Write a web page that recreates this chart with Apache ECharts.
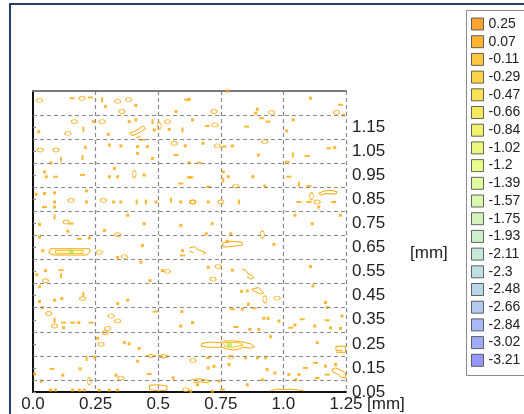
<!DOCTYPE html>
<html>
<head>
<meta charset="utf-8">
<script src="https://cdn.jsdelivr.net/npm/echarts@6/dist/echarts.min.js"></script>
<style>
  html, body { margin: 0; padding: 0; background: #fff; overflow: hidden; }
  #chart { width: 524px; height: 414px; }
</style>
</head>
<body>
<div id="chart"></div>
<script>
// axis ticks
var xTickValues = [0, 0.25, 0.5, 0.75, 1.0, 1.25];
var xTickLabels = ["0.0", "0.25", "0.5", "0.75", "1.0", "1.25"];
var yTickValues = [0.05, 0.15, 0.25, 0.35, 0.45, 0.55, 0.65, 0.75, 0.85, 0.95, 1.05, 1.15];
var yTickLabels = ["0.05", "0.15", "0.25", "0.35", "0.45", "0.55", "0.65", "0.75", "0.85", "0.95", "1.05", "1.15"];
var yGridValues = [0.1, 0.2, 0.3, 0.4, 0.5, 0.6, 0.7, 0.8, 0.9, 1.0, 1.1, 1.2];
var axisUnit = "[mm]";

// contour levels (legend)
var levelNames = ["0.25", "0.07", "-0.11", "-0.29", "-0.47", "-0.66", "-0.84", "-1.02", "-1.2", "-1.39",
  "-1.57", "-1.75", "-1.93", "-2.11", "-2.3", "-2.48", "-2.66", "-2.84", "-3.02", "-3.21"];
var levelColors = ["#ff8c00", "#ffa200", "#ffb812", "#fcc81c", "#f6d82a", "#f2e43a", "#eeee48", "#e8f55a",
  "#e2fa70", "#dafa86", "#d2f89a", "#c8f0aa", "#c0ecbe", "#b8e2cc", "#b0d8d8", "#a8cce2", "#a0bcee",
  "#94a8f4", "#8a94fa", "#7c7cfc"];

// contour fragments at level 0.07 [x mm, y mm]
var dotMarks = [
  [0.289,1.236],[0.411,1.24],[0.384,1.173],[0.411,1.18],[0.023,1.131],[0.241,1.173],[0.301,1.12],[0.484,1.138],
  [0.544,1.141],[0.571,1.215],[0.209,1.066],[0.072,1.002],[0.305,1.076],[0.351,1.072],[0.418,1.069],[0.418,1.041],
  [0.457,1.069],[0.477,1.02],[0.608,1.072],[0.046,0.964],[0.053,0.944],[0.325,0.978],[0.305,0.944],[0.338,0.944],
  [0.444,0.951],[0.013,0.871],[0.046,0.874],[0.086,0.877],[0.086,0.839],[0.214,0.839],[0.214,0.885],[0.322,0.839],
  [0.351,0.839],[0.491,0.839],[0.59,0.839],[0.086,0.818],[0.026,0.746],[0.139,0.718],[0.378,0.784],[0.444,0.749],
  [0.59,0.742],[0.285,0.721],[0.026,0.693],
  [0.776,1.3],[0.624,1.266],[0.896,1.224],[0.889,1.208],[1.108,1.27],[0.637,1.18],[1.039,1.18],[1.013,1.134],
  [0.679,1.083],[0.796,1.072],[1.205,1.065],[0.9,1.034],[0.624,1.002],[0.76,0.964],[0.78,0.944],[0.878,0.944],
  [0.926,0.905],[0.7,0.839],[1.141,0.818],[1.046,0.784],[1.228,0.784],[0.716,0.749],[1.115,0.749],[0.692,0.707],
  [0.79,0.707],[0.776,0.676],[1.24,1.2],
  [0.225,0.69],[0.039,0.637],[0.338,0.609],[0.437,0.658],[0.597,0.637],[0.431,0.589],[0.05,0.554],[0.015,0.537],
  [0.026,0.487],[0.517,0.554],[0.467,0.512],[0.026,0.426],[0.086,0.431],[0.115,0.438],[0.378,0.431],[0.338,0.417],
  [0.037,0.401],[0.122,0.317],[0.183,0.338],[0.594,0.384],[0.59,0.324],[0.258,0.273],[0.365,0.255],[0.384,0.25],
  [0.424,0.231],[0.245,0.195],[0.418,0.178],[0.006,0.125],[0.119,0.12],[0.188,0.146],[0.331,0.12],[0.033,0.095],
  [0.56,0.108],[0.07,0.058],[0.09,0.058],[0.158,0.058],[0.185,0.058],[0.205,0.058],[0.265,0.058],[0.305,0.058],
  [0.338,0.058],
  [0.962,0.663],[0.7,0.568],[0.796,0.556],[1.108,0.571],[0.833,0.468],[0.856,0.47],[1.118,0.491],[0.86,0.415],
  [0.836,0.394],[1.168,0.422],[1.175,0.401],[1.234,0.366],[0.637,0.338],[0.866,0.31],[0.902,0.31],[0.922,0.356],
  [0.939,0.356],[0.982,0.345],[1.046,0.328],[1.125,0.324],[1.228,0.314],[1.188,0.317],[0.949,0.28],[1.135,0.255],
  [0.723,0.157],[0.7,0.15],[0.783,0.164],[0.849,0.192],[0.896,0.192],[0.929,0.192],[0.966,0.129],[0.935,0.143],
  [1.022,0.122],[1.062,0.122],[1.168,0.157],[1.208,0.164],[0.743,0.095],[0.856,0.08],[0.916,0.101],[0.63,0.053],
  [0.716,0.053],[1.049,0.101],[0.657,0.08]
];
var dashMarks = [
  [0.156,1.27],[0.229,1.273],[0.614,1.264],[0.437,1.097],[0.09,0.944],[0.198,0.951],[0.59,0.916],[0.624,0.941],
  [0.046,0.818],[0.152,0.749],[0.185,0.686],[0.571,1.034],
  [1.228,1.243],[0.696,1.155],[0.913,1.187],[0.938,1.173],[0.853,1.152],[0.763,1.069],[1.181,1.062],[1.095,1.03],
  [0.663,1.002],[1.015,1.006],[0.63,0.941],[1.022,0.944],[0.7,0.902],[1.102,0.905],[1.062,0.839],[1.102,0.839],
  [1.201,0.839],
  [0.597,0.617],[0.112,0.556],[0.122,0.338],[0.159,0.338],[0.232,0.338],[0.488,0.384],[0.076,0.146],[0.464,0.125],
  [0.882,0.398],[0.796,0.394],[0.81,0.32],[1.029,0.317],[1.075,0.352],[1.175,0.348],[0.7,0.192],[1.088,0.15],
  [1.128,0.171],[1.175,0.122],[0.756,0.06],[1.135,0.108]
];
var vDashMarks = [
  [0.276,1.264],[0.201,1.141],[0.477,1.173],[0.597,1.138],[0.198,1.023],[0.112,1.016],[0.414,0.839],[0.451,0.839],
  [0.551,0.846],[0.086,0.777],[1.038,1.034],[0.76,0.93],[1.062,0.913],[0.823,0.839],
  [0.112,0.533],[0.201,0.456],[0.086,0.348],[0.214,0.189]
];
var ringMarks = [
  [0.026,1.261],[0.196,1.27],[0.338,1.257],[0.382,1.264],[0.355,1.215],[0.165,1.173],[0.139,1.124],[0.276,1.173],
  [0.537,1.173],[0.029,1.055],[0.092,1.055],[0.564,1.083],[0.152,0.846],[0.281,0.846],[0.637,0.839],[0.132,0.756],
  [0.338,0.703],
  [0.723,1.215],[0.953,1.211],[1.212,1.211],[0.727,1.159],[0.736,1.072],[0.926,1.09],[0.81,0.905],[0.639,0.839],
  [0.75,0.839],[1.135,0.839],
  [0.265,0.63],[0.365,0.612],[0.05,0.512],[0.537,0.551],[0.198,0.438],[0.063,0.376],[0.086,0.324],[0.312,0.366],
  [0.338,0.345],[0.298,0.314],[0.289,0.296],[0.272,0.248],[0.351,0.108],[0.61,0.06],
  [0.74,0.571],[0.719,0.519],[0.975,0.44],[0.639,0.181],[0.79,0.195]
];
var vRingMarks = [[0.504,1.155],[0.404,0.955],[1.112,0.863],[0.916,0.704],[0.225,0.095],[0.926,0.435]];

// longer contour lines at level 0.07
var outerLoops = [
  [[0.07,0.645],[0.225,0.645],[0.228,0.632],[0.215,0.619],[0.08,0.619],[0.063,0.628],[0.07,0.645]],
  [[0.672,0.25],[0.7,0.257],[0.75,0.255],[0.76,0.262],[0.8,0.262],[0.84,0.257],[0.87,0.25],[0.885,0.238],
   [0.87,0.232],[0.84,0.236],[0.82,0.228],[0.8,0.224],[0.77,0.23],[0.75,0.236],[0.7,0.236],[0.672,0.24],[0.672,0.25]],
  [[0.756,0.668],[0.79,0.676],[0.835,0.672],[0.836,0.66],[0.8,0.655],[0.76,0.652],[0.756,0.668]],
  [[0.625,0.648],[0.645,0.654],[0.66,0.64],[0.675,0.635],[0.69,0.628],[0.68,0.621]],
  [[0.625,0.635],[0.64,0.628]],
  [[0.836,0.56],[0.85,0.555],[0.86,0.54],[0.872,0.535],[0.882,0.525],[0.87,0.519],[0.855,0.53]],
  [[0.876,0.478],[0.9,0.484],[0.912,0.472],[0.922,0.462],[0.91,0.456],[0.89,0.466],[0.876,0.472],[0.876,0.478]],
  [[1.195,0.145],[1.21,0.15],[1.23,0.14],[1.248,0.13],[1.248,0.108],[1.23,0.112],[1.215,0.125],[1.195,0.135],[1.195,0.145]],
  [[1.235,0.222],[1.21,0.222],[1.21,0.24],[1.248,0.24],[1.248,0.215],[1.21,0.215]],
  [[0.632,0.1],[0.66,0.105],[0.69,0.1],[0.71,0.095],[0.7,0.088],[0.67,0.092],[0.64,0.09]],
  [[0.465,0.078],[0.5,0.08],[0.535,0.075],[0.535,0.058],[0.5,0.055],[0.465,0.06],[0.465,0.078]],
  [[0.452,0.2],[0.47,0.206],[0.49,0.2],[0.47,0.193],[0.452,0.2]],
  [[0.5,0.2],[0.52,0.206],[0.544,0.198],[0.52,0.19],[0.5,0.2]],
  [[0.95,0.055],[0.97,0.062],[1.0,0.06],[1.03,0.062],[1.06,0.058],[1.08,0.055]],
  [[1.141,0.875],[1.16,0.884],[1.185,0.888],[1.214,0.882],[1.21,0.872],[1.17,0.874],[1.15,0.868],[1.141,0.875]],
  [[0.385,1.125],[0.4,1.13],[0.42,1.14],[0.44,1.155],[0.45,1.145],[0.43,1.13],[0.41,1.12],[0.395,1.115],[0.385,1.125]],
  [[0.41,1.105],[0.43,1.112]]
];
// inner lines at level -0.11 / -0.29
var innerLoops = [
  [[0.09,0.638],[0.2,0.638],[0.2,0.626],[0.09,0.626],[0.09,0.638]],
  [[0.76,0.255],[0.82,0.255],[0.84,0.245],[0.8,0.236],[0.765,0.24],[0.76,0.255]]
];
// small patches at level -1.2
var greenSpots = [[0.153,0.633],[0.784,0.245]];

var chart = echarts.init(document.getElementById("chart"));

var fontFamily = "Liberation Sans, Arial, sans-serif";
var orange = "#ffa500";
var yellow = "#ffc20e";

var series = [];

// horizontal dashed grid
series.push({
  type: "scatter",
  data: [],
  silent: true,
  z: 1,
  markLine: {
    silent: true,
    symbol: "none",
    label: { show: false },
    lineStyle: { color: "#8a8a8a", type: [4, 3], width: 1.2 },
    data: yGridValues.map(function (v) { return { yAxis: v }; })
  }
});

outerLoops.forEach(function (pts) {
  series.push({
    type: "line", data: pts, showSymbol: false, silent: true, z: 3,
    lineStyle: { color: orange, width: 1 }
  });
});
innerLoops.forEach(function (pts) {
  series.push({
    type: "line", data: pts, showSymbol: false, silent: true, z: 3,
    lineStyle: { color: yellow, width: 1 }
  });
});

series.push({ type: "scatter", data: dotMarks, symbol: "rect", symbolSize: [3, 3], z: 3,
  itemStyle: { color: orange } });
series.push({ type: "scatter", data: dashMarks, symbol: "rect", symbolSize: [5, 2], z: 3,
  itemStyle: { color: orange } });
series.push({ type: "scatter", data: vDashMarks, symbol: "rect", symbolSize: [2, 5], z: 3,
  itemStyle: { color: orange } });
series.push({ type: "scatter", data: ringMarks, symbol: "circle", symbolSize: [6, 4], z: 3,
  itemStyle: { color: "rgba(255,255,255,0)", borderColor: orange, borderWidth: 1 } });
series.push({ type: "scatter", data: vRingMarks, symbol: "circle", symbolSize: [4, 7], z: 3,
  itemStyle: { color: "rgba(255,255,255,0)", borderColor: orange, borderWidth: 1 } });
series.push({ type: "scatter", data: greenSpots, symbol: "rect", symbolSize: [5, 5], z: 4,
  itemStyle: { color: "#bde35a" } });

// legend entries
levelNames.forEach(function (name, i) {
  series.push({ type: "scatter", name: name, data: [], itemStyle: { color: levelColors[i] } });
});

var option = {
  animation: false,
  backgroundColor: "#fff",
  textStyle: { fontFamily: fontFamily },
  graphic: [
    {
      type: "rect",
      shape: { x: 10, y: 4, width: 560, height: 440 },
      style: { fill: "none", stroke: "#223f6e", lineWidth: 2 },
      z: 0
    },
    {
      // legend frame, open on the right like the original
      type: "rect",
      shape: { x: 466.5, y: 10.5, width: 200, height: 365 },
      style: { fill: "#fff", stroke: "#8c8c8c", lineWidth: 1 },
      z: 0
    },
    {
      type: "text",
      x: 410, y: 253,
      style: { text: axisUnit, fill: "#222", font: "17px " + fontFamily, verticalAlign: "middle" }
    },
    {
      type: "text",
      x: 367, y: 404,
      style: { text: axisUnit, fill: "#222", font: "17px " + fontFamily, verticalAlign: "middle" }
    }
  ],
  legend: {
    orient: "vertical",
    left: 466,
    top: 10,
    padding: [7, 5, 7, 5],
    itemWidth: 12,
    itemHeight: 12,
    itemGap: 3.7,
    icon: "rect",
    selectedMode: false,
    itemStyle: { borderColor: "#404040", borderWidth: 1 },
    textStyle: { fontSize: 14, color: "#222", fontFamily: fontFamily, lineHeight: 12 },
    data: levelNames
  },
  grid: { left: 33, top: 91, right: 178, bottom: 22, containLabel: false },
  xAxis: [
    {
      type: "value",
      min: 0,
      max: 1.25,
      interval: 0.25,
      position: "bottom",
      axisLine: { lineStyle: { color: "#111", width: 2 } },
      axisTick: { show: false },
      axisLabel: {
        fontSize: 17, color: "#222", margin: 4,
        formatter: function (v) {
          var i = xTickValues.indexOf(Math.round(v * 100) / 100);
          return i >= 0 ? xTickLabels[i] : "";
        }
      },
      splitLine: { show: true, lineStyle: { color: "#8a8a8a", type: [4, 3], width: 1.2 } }
    },
    {
      type: "value",
      min: 0,
      max: 1.25,
      position: "top",
      axisLine: { show: true, lineStyle: { color: "#7a7a7a", width: 2 } },
      axisTick: { show: false },
      axisLabel: { show: false },
      splitLine: { show: false }
    }
  ],
  yAxis: {
    type: "value",
    min: 0.05,
    max: 1.3,
    position: "right",
    axisLine: { show: true, lineStyle: { color: "#111", width: 2 } },
    axisTick: { show: true, inside: false, length: 3, lineStyle: { color: "#888" },
      customValues: yTickValues.concat(yGridValues) },
    axisLabel: {
      fontSize: 17, color: "#222", margin: 6,
      customValues: yTickValues,
      formatter: function (v) {
        var i = yTickValues.indexOf(Math.round(v * 100) / 100);
        return i >= 0 ? yTickLabels[i] : "";
      }
    },
    splitLine: { show: false }
  },
  series: series
};

chart.setOption(option);
</script>
</body>
</html>
